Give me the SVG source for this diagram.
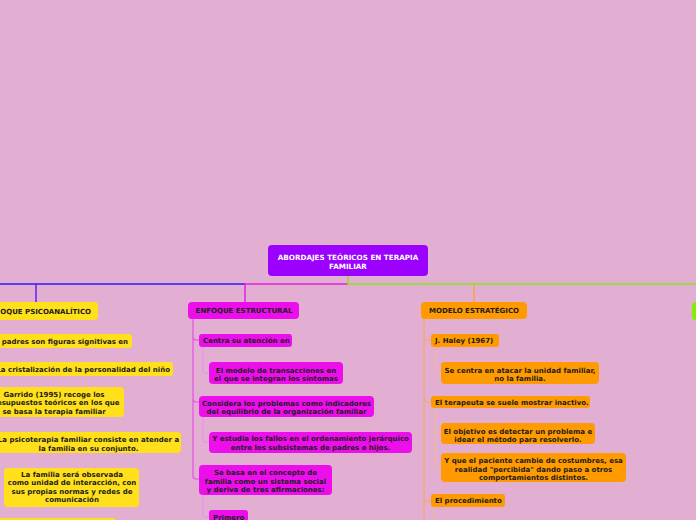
<svg xmlns="http://www.w3.org/2000/svg" width="696" height="520" viewBox="0 0 696 520">
<style>
text{font-family:"DejaVu Sans","Verdana",sans-serif;font-weight:bold;font-size:7px;fill:#1c1c1c}
.c{text-anchor:middle}
.e{text-anchor:end}
.root text{fill:#ffffff;font-size:7.2px}
.y rect{fill:#FFE01B}
.m rect{fill:#EC0FEC}
.o rect{fill:#FF9A00}
.ln{fill:none;stroke-linecap:round}
</style>
<rect width="696" height="520" fill="#E2AED1"/>
<g id="connectors" class="ln">
  <path d="M245 284H0" stroke="#3A14FF" stroke-width="1.5"/>
  <path d="M36 284V302" stroke="#6A1CF0" stroke-width="1.5"/>
  <path d="M348 284H245V302" stroke="#E81BE8" stroke-width="1.5"/>
  <path d="M474 284V302" stroke="#FFA040" stroke-width="1.5"/>
  <path d="M348 276V284H696" stroke="#86E81A" stroke-width="1.5"/>
  <path d="M193 319V337Q193 340 196 340H199M193 337V399Q193 402 196 402H199M193 399V476Q193 479 196 479H199" stroke="#E650E6" stroke-width="1.2"/>
  <path d="M203 347V370Q203 373 206 373H209" stroke="#EC8CEC" stroke-width="1"/>
  <path d="M203 417V439Q203 442 206 442H209" stroke="#EC8CEC" stroke-width="1"/>
  <path d="M203 495V514Q203 517 206 517H209" stroke="#EC8CEC" stroke-width="1"/>
  <path d="M424 319V337Q424 340 427 340H431M424 337V399Q424 402 427 402H431M424 399V498Q424 501 427 501H431M424 498V520" stroke="#F7A766" stroke-width="1.2"/>
  <path d="M435 347V370Q435 373 438 373H441" stroke="#F5B88E" stroke-width="1"/>
  <path d="M435 408V430Q435 433 438 433H441M435 430V464Q435 467 438 467H441" stroke="#F5B88E" stroke-width="1"/>
  <path d="M434 507V520" stroke="#F5B88E" stroke-width="1"/>
</g>
<g id="root" class="root">
  <rect x="268" y="245" width="160" height="31" rx="4" fill="#9C00FF"/>
  <text class="c" x="348" y="259.5">ABORDAJES TEÓRICOS EN TERAPIA</text>
  <text class="c" x="348" y="268.5">FAMILIAR</text>
</g>
<g id="n-psico" class="y">
  <rect x="-30" y="302" width="128" height="18" rx="4"/>
  <text class="e" x="91" y="313.5">ENFOQUE PSICOANALÍTICO</text>
</g>
<g id="n-padres" class="y">
  <rect x="-40" y="334" width="172" height="14" rx="3"/>
  <text class="e" x="128" y="343.5">Los padres son figuras signitivas en</text>
</g>
<g id="n-cristal" class="y">
  <rect x="-20" y="362" width="193" height="14" rx="3"/>
  <text class="e" x="170" y="371.5">La cristalización de la personalidad del niño</text>
</g>
<g id="n-garrido" class="y">
  <rect x="-20" y="387" width="144" height="30" rx="4"/>
  <text class="c" x="54" y="396.5">Garrido (1995) recoge los</text>
  <text class="c" x="54" y="405">presupuestos teóricos en los que</text>
  <text class="c" x="54" y="413.5">se basa la terapia familiar</text>
</g>
<g id="n-psicoterapia" class="y">
  <rect x="-10" y="432" width="191" height="21" rx="4"/>
  <text class="c" x="88.5" y="441.5">La psicoterapia familiar consiste en atender a</text>
  <text class="c" x="88.5" y="450.5">la familia en su conjunto.</text>
</g>
<g id="n-familia" class="y">
  <rect x="4" y="468" width="135" height="39" rx="4"/>
  <text class="c" x="72" y="476.5">La familia será observada</text>
  <text class="c" x="72" y="485">como unidad de interacción, con</text>
  <text class="c" x="72" y="493.5">sus propias normas y redes de</text>
  <text class="c" x="72" y="502">comunicación</text>
</g>
<g id="n-yellow-bottom" class="y">
  <rect x="-10" y="518" width="126" height="14" rx="3"/>
</g>
<g id="n-estructural" class="m">
  <rect x="188" y="302" width="111" height="17" rx="4"/>
  <text class="c" x="244" y="313">ENFOQUE ESTRUCTURAL</text>
</g>
<g id="n-centra" class="m">
  <rect x="199" y="334" width="93" height="13" rx="3"/>
  <text x="203" y="343">Centra su atención en</text>
</g>
<g id="n-transacciones" class="m">
  <rect x="209" y="362" width="134" height="22" rx="4"/>
  <text class="c" x="276" y="372.5">El modelo de transacciones en</text>
  <text class="c" x="276" y="380.5">el que se integran los síntomas</text>
</g>
<g id="n-considera" class="m">
  <rect x="199" y="396" width="175" height="21" rx="4"/>
  <text class="c" x="286.5" y="405.5">Considera los problemas como indicadores</text>
  <text class="c" x="286.5" y="413.5">del equilibrio de la organización familiar</text>
</g>
<g id="n-estudia" class="m">
  <rect x="209" y="432" width="203" height="21" rx="4"/>
  <text class="c" x="310.5" y="440.5">Y estudia los fallos en el ordenamiento jerárquico</text>
  <text class="c" x="310.5" y="449.5">entre los subsistemas de padres e hijos.</text>
</g>
<g id="n-sebasa" class="m">
  <rect x="199" y="465" width="133" height="30" rx="4"/>
  <text class="c" x="265.5" y="474.5">Se basa en el concepto de</text>
  <text class="c" x="265.5" y="483.5">familia como un sistema social</text>
  <text class="c" x="265.5" y="491.5">y deriva de tres afirmaciones:</text>
</g>
<g id="n-primero" class="m">
  <rect x="209" y="510" width="39" height="14" rx="3"/>
  <text x="213" y="519.5">Primero</text>
</g>
<g id="n-estrategico" class="o">
  <rect x="421" y="302" width="106" height="17" rx="4"/>
  <text class="c" x="474" y="313">MODELO ESTRATÉGICO</text>
</g>
<g id="n-haley" class="o">
  <rect x="431" y="334" width="68" height="13" rx="3"/>
  <text x="435" y="343">J. Haley (1967)</text>
</g>
<g id="n-secentra" class="o">
  <rect x="441" y="362" width="158" height="22" rx="4"/>
  <text class="c" x="520" y="372.5">Se centra en atacar la unidad familiar,</text>
  <text class="c" x="520" y="380.5">no la familia.</text>
</g>
<g id="n-terapeuta" class="o">
  <rect x="431" y="396" width="159" height="12" rx="3"/>
  <text x="435" y="404.5">El terapeuta se suele mostrar inactivo.</text>
</g>
<g id="n-objetivo" class="o">
  <rect x="441" y="423" width="154" height="21" rx="4"/>
  <text class="c" x="518" y="433.5">El objetivo es detectar un problema e</text>
  <text class="c" x="518" y="441.5">idear el método para resolverlo.</text>
</g>
<g id="n-yque" class="o">
  <rect x="441" y="453" width="185" height="29" rx="4"/>
  <text class="c" x="533.5" y="462.5">Y que el paciente cambie de costumbres, esa</text>
  <text class="c" x="533.5" y="471.5">realidad "percibida" dando paso a otros</text>
  <text class="c" x="533.5" y="479.5">comportamientos distintos.</text>
</g>
<g id="n-procedimiento" class="o">
  <rect x="431" y="494" width="74" height="13" rx="3"/>
  <text x="435" y="503">El procedimiento</text>
</g>
<g id="n-green">
  <rect x="692" y="302" width="20" height="18" rx="4" fill="#80F000"/>
</g>
</svg>
